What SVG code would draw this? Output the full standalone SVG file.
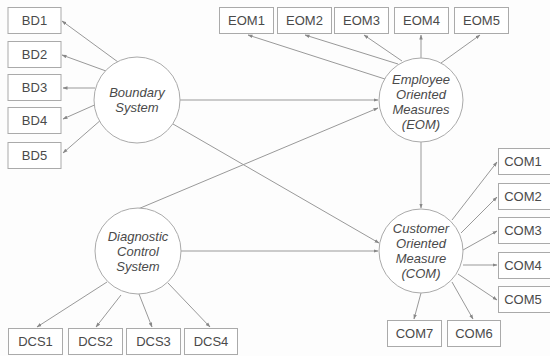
<svg xmlns="http://www.w3.org/2000/svg" width="550" height="356" viewBox="0 0 550 356">
<style>
.box{fill:#fff;stroke:#aaa;stroke-width:1}
.lat{fill:#fff;stroke:#aaa;stroke-width:1}
.bt{font-family:"Liberation Sans",Arial,sans-serif;font-size:13px;fill:#4a4a4a;text-anchor:middle}
.ct{font-family:"Liberation Sans",Arial,sans-serif;font-size:13px;font-style:italic;fill:#4a4a4a;text-anchor:middle}
.ln{stroke:#999;stroke-width:1;fill:none;marker-end:url(#ah)}
</style>
<defs>
<marker id="ah" viewBox="0 0 10 10" refX="9" refY="5" markerWidth="5" markerHeight="5" orient="auto" markerUnits="userSpaceOnUse">
<path d="M0,1.5 L10,5 L0,8.5 z" fill="#888"/>
</marker>
</defs>
<rect width="550" height="356" fill="#fdfdfd"/>
<g id="connectors">
<line class="ln" x1="118" y1="62" x2="62" y2="21"/>
<line class="ln" x1="106" y1="71" x2="62" y2="55"/>
<line class="ln" x1="95" y1="88" x2="63" y2="88"/>
<line class="ln" x1="99" y1="103" x2="63" y2="119"/>
<line class="ln" x1="102" y1="119" x2="63" y2="153"/>
<line class="ln" x1="388" y1="80" x2="248" y2="35"/>
<line class="ln" x1="398" y1="64" x2="305" y2="35"/>
<line class="ln" x1="402" y1="61" x2="364" y2="35"/>
<line class="ln" x1="421" y1="58" x2="421" y2="35"/>
<line class="ln" x1="441" y1="63" x2="480" y2="35"/>
<line class="ln" x1="180" y1="100" x2="378" y2="100"/>
<line class="ln" x1="138" y1="209" x2="378" y2="108"/>
<line class="ln" x1="173" y1="124" x2="379" y2="243"/>
<line class="ln" x1="181" y1="251" x2="378" y2="251"/>
<line class="ln" x1="421" y1="142" x2="421" y2="208"/>
<line class="ln" x1="107" y1="282" x2="37" y2="327"/>
<line class="ln" x1="121" y1="295" x2="96" y2="327"/>
<line class="ln" x1="139" y1="294" x2="152" y2="327"/>
<line class="ln" x1="168" y1="283" x2="210" y2="327"/>
<line class="ln" x1="452" y1="220" x2="497" y2="162"/>
<line class="ln" x1="461" y1="233" x2="497" y2="197"/>
<line class="ln" x1="463" y1="250" x2="497" y2="231"/>
<line class="ln" x1="463" y1="265" x2="497" y2="265"/>
<line class="ln" x1="458" y1="274" x2="497" y2="300"/>
<line class="ln" x1="421" y1="293" x2="414" y2="319"/>
<line class="ln" x1="452" y1="282" x2="473" y2="319"/>
</g>
<g id="boundary"><circle class="lat" cx="137" cy="100" r="43"/><text class="ct" x="137" y="97">Boundary</text><text class="ct" x="137" y="112">System</text></g>
<g id="eom"><circle class="lat" cx="421" cy="100" r="42"/><text class="ct" x="421" y="84">Employee</text><text class="ct" x="421" y="99">Oriented</text><text class="ct" x="421" y="114">Measures</text><text class="ct" x="421" y="129">(EOM)</text></g>
<g id="dcs"><circle class="lat" cx="138" cy="251" r="43"/><text class="ct" x="138" y="241">Diagnostic</text><text class="ct" x="138" y="256">Control</text><text class="ct" x="138" y="271">System</text></g>
<g id="com"><circle class="lat" cx="421" cy="251" r="42"/><text class="ct" x="421" y="233">Customer</text><text class="ct" x="421" y="248">Oriented</text><text class="ct" x="421" y="263">Measure</text><text class="ct" x="421" y="278">(COM)</text></g>
<g id="bd1"><rect class="box" x="8" y="7.5" width="53" height="26"/><text class="bt" x="34.5" y="25">BD1</text></g>
<g id="bd2"><rect class="box" x="8" y="41.5" width="53" height="26"/><text class="bt" x="34.5" y="59">BD2</text></g>
<g id="bd3"><rect class="box" x="8" y="74.5" width="53" height="26"/><text class="bt" x="34.5" y="92">BD3</text></g>
<g id="bd4"><rect class="box" x="8" y="107.5" width="53" height="26"/><text class="bt" x="34.5" y="125">BD4</text></g>
<g id="bd5"><rect class="box" x="8" y="142.5" width="53" height="26"/><text class="bt" x="34.5" y="160">BD5</text></g>
<g id="eom1"><rect class="box" x="219.5" y="7.5" width="54" height="26"/><text class="bt" x="246.5" y="25">EOM1</text></g>
<g id="eom2"><rect class="box" x="277.5" y="7.5" width="54" height="26"/><text class="bt" x="304.5" y="25">EOM2</text></g>
<g id="eom3"><rect class="box" x="334.5" y="7.5" width="54" height="26"/><text class="bt" x="361.5" y="25">EOM3</text></g>
<g id="eom4"><rect class="box" x="394.5" y="7.5" width="54" height="26"/><text class="bt" x="421.5" y="25">EOM4</text></g>
<g id="eom5"><rect class="box" x="454.5" y="7.5" width="54" height="26"/><text class="bt" x="481.5" y="25">EOM5</text></g>
<g id="dcs1"><rect class="box" x="8.5" y="328.5" width="54" height="26"/><text class="bt" x="35.5" y="346">DCS1</text></g>
<g id="dcs2"><rect class="box" x="68.5" y="328.5" width="54" height="26"/><text class="bt" x="95.5" y="346">DCS2</text></g>
<g id="dcs3"><rect class="box" x="126.5" y="328.5" width="54" height="26"/><text class="bt" x="153.5" y="346">DCS3</text></g>
<g id="dcs4"><rect class="box" x="184.5" y="328.5" width="53" height="26"/><text class="bt" x="211" y="346">DCS4</text></g>
<g id="com1"><rect class="box" x="498.5" y="148.5" width="52" height="26"/><text class="bt" x="523" y="166">COM1</text></g>
<g id="com2"><rect class="box" x="498.5" y="183.5" width="52" height="26"/><text class="bt" x="523" y="201">COM2</text></g>
<g id="com3"><rect class="box" x="498.5" y="217.5" width="52" height="26"/><text class="bt" x="523" y="235">COM3</text></g>
<g id="com4"><rect class="box" x="498.5" y="252.5" width="52" height="26"/><text class="bt" x="523" y="270">COM4</text></g>
<g id="com5"><rect class="box" x="498.5" y="286.5" width="52" height="26"/><text class="bt" x="523" y="304">COM5</text></g>
<g id="com7"><rect class="box" x="387.5" y="320.5" width="54" height="26"/><text class="bt" x="414.5" y="338">COM7</text></g>
<g id="com6"><rect class="box" x="447.5" y="320.5" width="53" height="26"/><text class="bt" x="474" y="338">COM6</text></g>
</svg>
